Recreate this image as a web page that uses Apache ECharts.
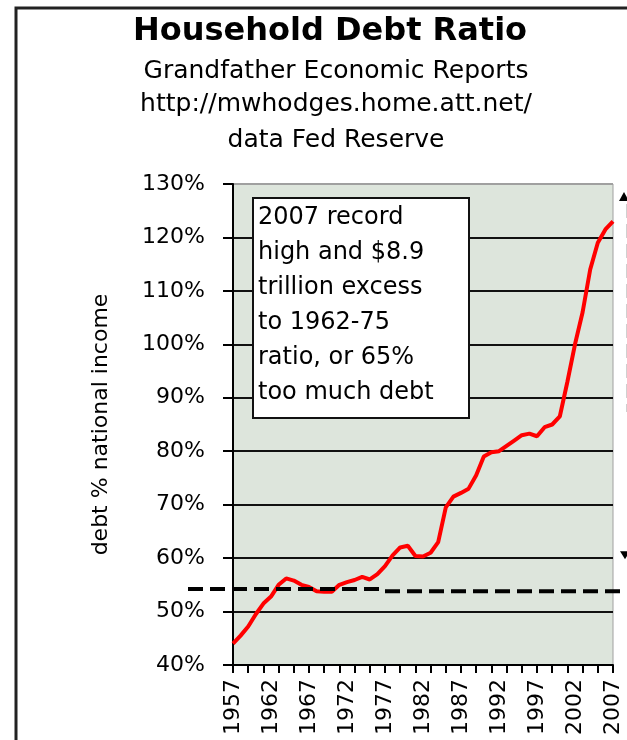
<!DOCTYPE html>
<html>
<head>
<meta charset="utf-8">
<title>Household Debt Ratio</title>
<script src="https://cdn.jsdelivr.net/npm/echarts@6/dist/echarts.min.js"></script>
<style>
html, body { margin: 0; padding: 0; background: #fff; }
#main { width: 627px; height: 740px; }
</style>
</head>
<body>
<div id="main"></div>
<script>
// years on the category axis
var years = ['1957','1958','1959','1960','1961','1962','1963','1964','1965','1966',
	'1967','1968','1969','1970','1971','1972','1973','1974','1975','1976',
	'1977','1978','1979','1980','1981','1982','1983','1984','1985','1986',
	'1987','1988','1989','1990','1991','1992','1993','1994','1995','1996',
	'1997','1998','1999','2000','2001','2002','2003','2004','2005','2006','2007'];
// household debt as % of national income
var debtRatio = [44, 45.5, 47.2, 49.5, 51.5, 52.8, 55, 56.2, 55.8, 55,
	54.6, 53.8, 53.7, 53.7, 55, 55.5, 55.9, 56.5, 56, 57,
	58.5, 60.5, 62, 62.3, 60.4, 60.3, 61, 63, 69.5, 71.5,
	72.2, 73, 75.5, 79, 79.8, 80, 81, 82, 83, 83.3,
	82.8, 84.5, 85, 86.5, 93, 100, 106, 114, 119, 121.5, 123];
// 1962-75 average level (dashed), before and after the small step
var avgLevels = [54.2, 53.8];
var avgBreakYear = '1977';
// right-hand arrow ends (cropped annotation)
var arrowEnds = [128.5, 59.8];

var yMin = 40, yMax = 130, yStep = 10;

var titleText = 'Household Debt Ratio';
var subLines = ['Grandfather Economic Reports', 'http://mwhodges.home.att.net/', 'data Fed Reserve'];
var noteLines = ['2007 record', 'high and $8.9', 'trillion excess', 'to 1962-75', 'ratio, or 65%', 'too much debt'];
var yName = 'debt % national income';

var FONT = 'DejaVu Sans';
var myChart = echarts.init(document.getElementById('main'), null, {renderer: 'canvas'});

var option = {
	backgroundColor: '#fff',
	animation: false,
	textStyle: {fontFamily: FONT, color: '#000'},
	grid: {
		left: 233, top: 184, right: 14, bottom: 75,
		show: true,
		backgroundColor: '#dde5dc',
		borderColor: '#a0a0a0',
		borderWidth: 1,
		outerBoundsMode: 'none'
	},
	xAxis: {
		type: 'category',
		data: years,
		boundaryGap: false,
		axisLine: {lineStyle: {color: '#000', width: 2}},
		axisTick: {show: true, interval: 1, length: 8, lineStyle: {color: '#000', width: 2}},
		axisLabel: {interval: 4, rotate: 90, margin: 14, fontSize: 22, color: '#000', fontFamily: FONT},
		splitLine: {show: false}
	},
	yAxis: {
		type: 'value',
		min: yMin, max: yMax, interval: yStep,
		name: yName,
		nameLocation: 'middle',
		nameRotate: 90,
		nameGap: 121,
		nameTextStyle: {fontSize: 22, color: '#000', fontFamily: FONT},
		axisLine: {show: true, lineStyle: {color: '#000', width: 2}},
		axisTick: {show: true, length: 10, lineStyle: {color: '#000', width: 2}},
		axisLabel: {margin: 28, fontSize: 22, color: '#000', fontFamily: FONT,
			formatter: '{value}%'},
		splitLine: {show: true, lineStyle: {
			color: ['#000','#111','#111','#111','#111','#111','#111','#111','#111','#a0a0a0'],
			width: 2}}
	},
	series: [{
		name: 'debt ratio',
		type: 'line',
		data: debtRatio,
		symbol: 'none',
		smooth: false,
		lineStyle: {color: '#ff0000', width: 4},
		z: 5
	}]
};
myChart.setOption(option);

function py(v) { return myChart.convertToPixel({yAxisIndex: 0}, v); }
function px(c) { return myChart.convertToPixel({xAxisIndex: 0}, c); }

var breakX = px(avgBreakYear);
var y0 = py(avgLevels[0]), y1 = py(avgLevels[1]);
var topArrow = py(arrowEnds[0]), botArrow = py(arrowEnds[1]);

var graphics = [
	// outer frame of the original picture
	{type: 'rect', silent: true, shape: {x: 16, y: 8, width: 700, height: 800},
		style: {fill: null, stroke: '#222', lineWidth: 3}},
	{type: 'text', style: {x: 330, y: 32, text: titleText, textAlign: 'center', textVerticalAlign: 'middle',
		font: 'bold 32px "DejaVu Sans"', fill: '#000'}},
	{type: 'text', style: {x: 336, y: 71, text: subLines[0], textAlign: 'center', textVerticalAlign: 'middle',
		font: '25px "DejaVu Sans"', fill: '#000'}},
	{type: 'text', style: {x: 336, y: 104, text: subLines[1], textAlign: 'center', textVerticalAlign: 'middle',
		font: '25px "DejaVu Sans"', fill: '#000'}},
	{type: 'text', style: {x: 336, y: 140, text: subLines[2], textAlign: 'center', textVerticalAlign: 'middle',
		font: '25px "DejaVu Sans"', fill: '#000'}},
	// note box
	{type: 'rect', z: 10, shape: {x: 253, y: 198, width: 216, height: 220},
		style: {fill: '#fff', stroke: '#111', lineWidth: 2}},
	{type: 'text', z: 11, style: {x: 258, y: 200, text: noteLines.join('\n'), font: '24px "DejaVu Sans"',
		lineHeight: 35, fill: '#000', textVerticalAlign: 'top'}},
	// dashed average line, running past the plot on both sides
	{type: 'line', z: 12, shape: {x1: 188, y1: y0, x2: breakX, y2: y0},
		style: {stroke: '#000', lineWidth: 4, lineDash: [15, 7]}},
	{type: 'line', z: 12, shape: {x1: breakX, y1: y1, x2: 640, y2: y1},
		style: {stroke: '#000', lineWidth: 4, lineDash: [15, 7]}},
	// cropped double arrow on the right edge
	{type: 'line', z: 12, shape: {x1: 627, y1: topArrow + 12, x2: 627, y2: topArrow + 220},
		style: {stroke: '#d0d0d0', lineWidth: 2, lineDash: [14, 6]}},
	{type: 'polygon', z: 12, shape: {points: [[624, topArrow], [619, topArrow + 9], [629, topArrow + 9]]},
		style: {fill: '#000'}},
	{type: 'polygon', z: 12, shape: {points: [[625, botArrow], [620, botArrow - 8], [630, botArrow - 8]]},
		style: {fill: '#000'}}
];
myChart.setOption({graphic: graphics});
</script>
</body>
</html>
